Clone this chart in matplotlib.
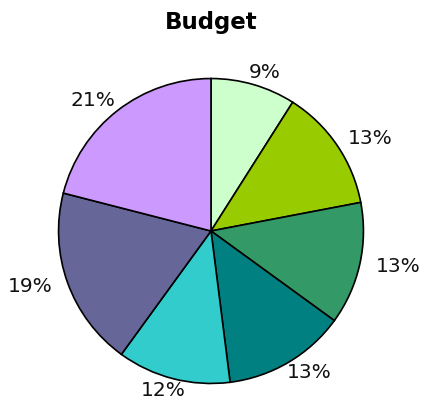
import matplotlib.pyplot as plt
import numpy as np

# budget shares, clockwise from 12 o'clock
shares = [9, 13, 13, 13, 12, 19, 21]
labels = ["9%", "13%", "13%", "13%", "12%", "19%", "21%"]
colors = ["#ccffcc", "#99cc00", "#339966", "#008080",
          "#33cccc", "#666699", "#cc99ff"]

fig = plt.figure(figsize=(4.22, 4.01), dpi=100)
ax = fig.add_axes([0, 0, 1, 1])

ax.pie(shares, colors=colors, startangle=90, counterclock=False,
       radius=1.0, center=(0, 0),
       wedgeprops=dict(edgecolor="black", linewidth=1.2))

# labels sit on an ellipse around the pie, at each wedge's middle angle
cum = np.cumsum(shares) - np.array(shares) / 2.0
mid = np.deg2rad(cum / sum(shares) * 360.0)
for lab, th in zip(labels, mid):
    x = 1.26 * np.sin(th)
    y = 1.08 * np.cos(th)
    ax.text(x, y, lab, ha="center", va="center", fontsize=14.5,
            color="#111111", family="DejaVu Sans")

ax.text(0, 1.37, "Budget", ha="center", va="center", fontsize=16.5,
        fontweight="bold", color="black", family="DejaVu Sans")

ax.set_xlim(-1.384, 1.384)
ax.set_ylim(-1.115, 1.515)
ax.set_aspect("auto")
ax.axis("off")

fig.savefig("out.png", dpi=100, facecolor="white")
